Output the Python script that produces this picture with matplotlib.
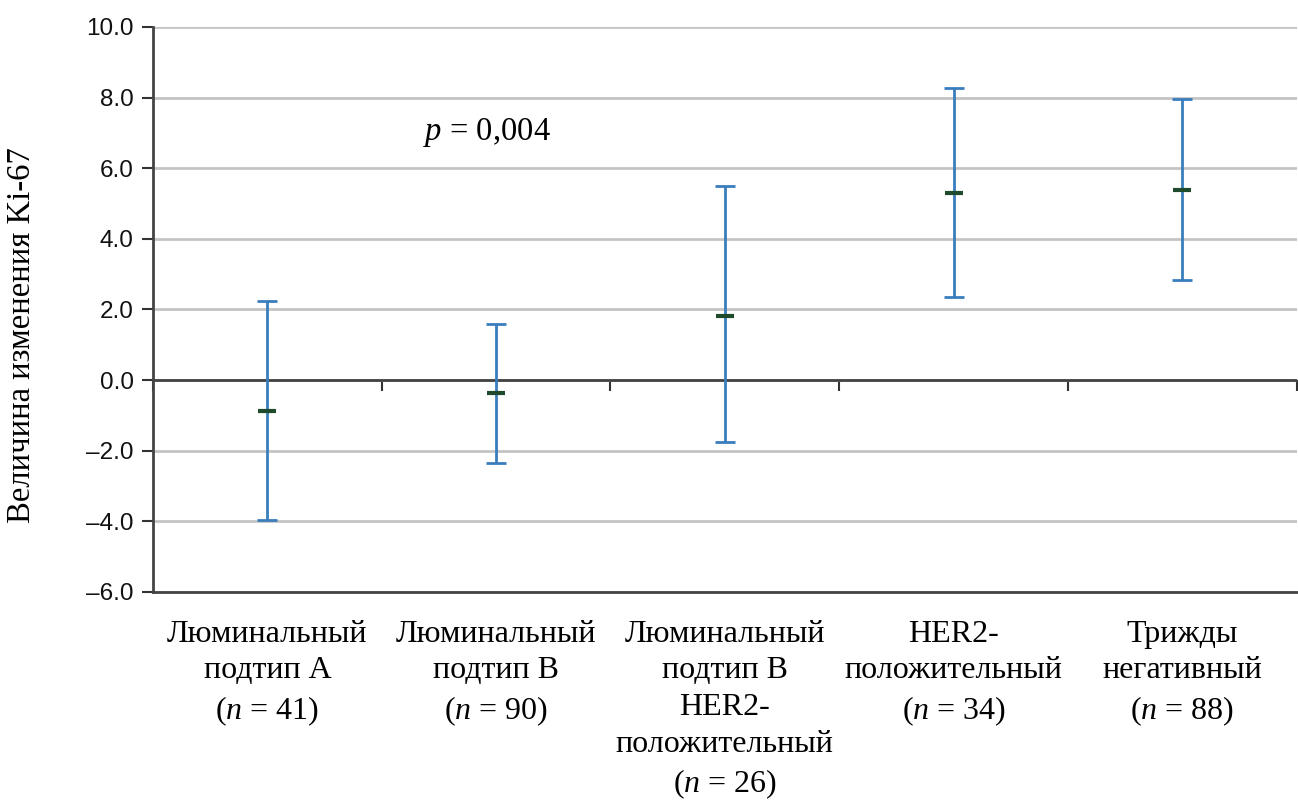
import numpy as np
import matplotlib.pyplot as plt

categories = [
    'Люминальный\nподтип А\n($\\it{n}$ = 41)',
    'Люминальный\nподтип В\n($\\it{n}$ = 90)',
    'Люминальный\nподтип В\nHER2-\nположительный\n($\\it{n}$ = 26)',
    'HER2-\nположительный\n($\\it{n}$ = 34)',
    'Трижды\nнегативный\n($\\it{n}$ = 88)',
]
means = [-0.88, -0.37, 1.81, 5.30, 5.37]
upper = [2.24, 1.59, 5.50, 8.27, 7.96]
lower = [-3.96, -2.35, -1.76, 2.35, 2.83]
yticks = [-6, -4, -2, 0, 2, 4, 6, 8, 10]

plt.rcParams['mathtext.fontset'] = 'custom'
plt.rcParams['mathtext.rm'] = 'Liberation Serif'
plt.rcParams['mathtext.it'] = 'Liberation Serif:italic'

fig = plt.figure(figsize=(12.98, 8.01), dpi=100)
ax = fig.add_axes([0.1179, 0.261, 0.881, 0.7053])

x = np.arange(1, len(means) + 1)
means = np.array(means)
err = [means - np.array(lower), np.array(upper) - means]

ax.errorbar(x, means, yerr=err, fmt='none', ecolor='#3a7dbd', elinewidth=2,
            capsize=7, capthick=2, zorder=3)
# short dark marks for the means
ax.scatter(x, means, marker='_', s=150, linewidths=3, color='#1f4a2c', zorder=4)

ax.set_xlim(0.5, 5.5)
ax.set_ylim(-6, 10)
ax.set_yticks(yticks)
ax.set_yticklabels([f'{v:.1f}'.replace('-', '–') for v in yticks],
                   fontfamily='Liberation Sans', fontsize=17.5, color='#111111')
ax.set_xticks(x)
ax.set_xticklabels(categories, fontfamily='Liberation Serif', fontsize=23,
                   linespacing=1.35)
ax.tick_params(axis='x', length=0, pad=20)
ax.tick_params(axis='y', length=8, width=1.5, color='#333333', pad=6)

ax.grid(axis='y', color='#c4c4c4', linewidth=2)
ax.set_axisbelow(True)
for s in ['top', 'right']:
    ax.spines[s].set_visible(False)
ax.spines['left'].set_color('#444444')
ax.spines['left'].set_linewidth(2)
ax.spines['bottom'].set_color('#444444')
ax.spines['bottom'].set_linewidth(2)

# zero line with category boundary ticks
ax.axhline(0, color='#444444', linewidth=2, zorder=2)
sec = ax.secondary_xaxis(6 / 16)
sec.set_xticks(np.arange(0.5, 6, 1))
sec.set_xticklabels([])
sec.tick_params(length=8, width=1.5, color='#333333', direction='out')
sec.spines['bottom'].set_visible(False)

fig.text(22 / 1298, 1 - 335 / 801, 'Величина изменения Ki-67',
         fontfamily='Liberation Serif', fontsize=23.5, rotation=90,
         ha='center', va='center')

ax.text(1.68, 7.0, '$\\it{p}$ = 0,004', fontfamily='Liberation Serif',
        fontsize=23.5, ha='left', va='center')

fig.savefig('out.png', dpi=100)
